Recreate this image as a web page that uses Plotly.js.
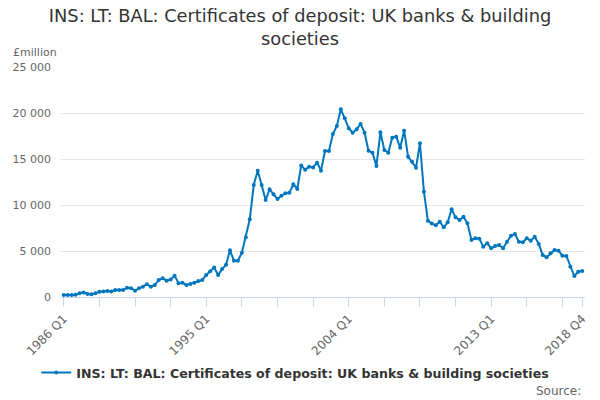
<!DOCTYPE html>
<html>
<head>
<meta charset="utf-8">
<script src="https://cdn.plot.ly/plotly-3.0.1.min.js"></script>
<style>
  html, body { margin: 0; padding: 0; background: #fff; }
  #chart { width: 600px; height: 400px; }
</style>
</head>
<body>
<div id="chart"></div>
<script>
// quarters 1986 Q1 .. 2018 Q4
const firstYear = 1986;
const lastYear = 2018;
const quarters = [];
for (let y = firstYear; y <= lastYear; y++) {
  for (let q = 1; q <= 4; q++) quarters.push(y + ' Q' + q);
}

// £million
const values = [
  220, 230, 230, 250, 400, 500, 330, 300, 420, 580,
  600, 650, 600, 760, 770, 760, 1010, 950, 690, 950,
  1120, 1380, 1120, 1300, 1850, 2030, 1770, 1900, 2320, 1490,
  1540, 1300, 1400, 1560, 1740, 1850, 2390, 2800, 3200, 2390,
  3030, 3500, 5070, 3950, 3950, 4820, 6490, 8450, 12170, 13730,
  12170, 10540, 11700, 11160, 10650, 11010, 11270, 11340, 12250, 11740,
  14300, 13840, 14160, 14080, 14600, 13730, 15880, 15880, 17720, 18590,
  20400, 19420, 18340, 17860, 18230, 18810, 17860, 15900, 15690, 14240,
  17900, 15980, 15690, 17320, 17430, 16230, 18080, 15250, 14710, 14060,
  16710, 11450, 8290, 7980, 7790, 8190, 7580, 8120, 9530, 8660,
  8370, 8730, 8010, 6200, 6380, 6340, 5470, 5840, 5290, 5540,
  5650, 5290, 6010, 6660, 6850, 6010, 5950, 6380, 6120, 6560,
  5760, 4570, 4310, 4750, 5110, 5030, 4490, 4460, 3300, 2280,
  2750, 2830
];

const seriesName = 'INS: LT: BAL: Certificates of deposit: UK banks & building societies';
const labelledTicks = ['1986 Q1', '1995 Q1', '2004 Q1', '2013 Q1', '2018 Q4'];
const yTicks = [0, 5000, 10000, 15000, 20000, 25000];

// tick marks every 9 quarters, plus the last one
const tickVals = quarters.filter((q, i) => i % 9 === 0);
tickVals.push(quarters[quarters.length - 1]);
const tickText = tickVals.map(q => labelledTicks.includes(q) ? q : '');

const blue = '#0076bf';
const font = 'DejaVu Sans, sans-serif';

const trace = {
  x: quarters,
  y: values,
  name: seriesName,
  type: 'scatter',
  mode: 'lines+markers',
  line: { color: blue, width: 2 },
  marker: { color: blue, size: 4 }
};

const layout = {
  width: 600,
  height: 400,
  margin: { l: 61, r: 15, t: 67, b: 103 },
  paper_bgcolor: '#fff',
  plot_bgcolor: '#fff',
  separators: '. ',
  font: { family: font, color: '#666' },
  title: {
    text: 'INS: LT: BAL: Certificates of deposit: UK banks & building<br>societies',
    font: { family: font, size: 17.8, color: '#333' },
    x: 0.5,
    xanchor: 'center',
    yref: 'container',
    y: 0.945,
    yanchor: 'top'
  },
  xaxis: {
    type: 'category',
    range: [-0.7, quarters.length - 0.3],
    tickvals: tickVals,
    ticktext: tickText,
    tickangle: -45,
    tickfont: { size: 12, color: '#666' },
    ticks: 'outside',
    ticklen: 9,
    tickcolor: '#ccd6eb',
    showline: true,
    linecolor: '#ccd6eb',
    linewidth: 1,
    showgrid: false,
    zeroline: false,
    fixedrange: true
  },
  yaxis: {
    range: [0, 25000],
    tickvals: yTicks,
    tickformat: ',d',
    tickfont: { size: 11, color: '#666' },
    ticklabelstandoff: 9,
    showgrid: true,
    gridcolor: '#e6e6e6',
    showline: false,
    zeroline: false,
    ticks: '',
    fixedrange: true
  },
  showlegend: true,
  legend: {
    orientation: 'h',
    x: 0.447,
    xanchor: 'center',
    y: -0.33,
    yanchor: 'middle',
    font: { family: font, size: 12.6, color: '#333', weight: 'bold' }
  },
  annotations: [
    {
      text: '£million',
      xref: 'paper', yref: 'paper',
      x: -0.095, y: 1.065,
      xanchor: 'left', yanchor: 'middle',
      showarrow: false,
      font: { family: font, size: 11, color: '#666' }
    },
    {
      text: 'Source:',
      xref: 'paper', yref: 'paper',
      x: 1, y: -0.41,
      xanchor: 'right', yanchor: 'middle',
      xshift: -2,
      showarrow: false,
      font: { family: font, size: 12, color: '#666' }
    }
  ]
};

Plotly.newPlot('chart', [trace], layout, { displayModeBar: false, staticPlot: true });
</script>
</body>
</html>
